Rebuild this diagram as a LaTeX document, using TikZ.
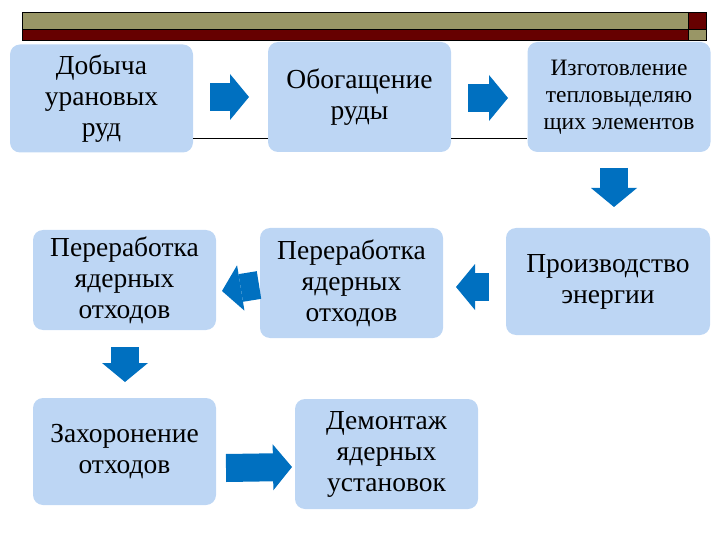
\documentclass[tikz,border=0pt]{standalone}
\usepackage{fontspec}
\setmainfont{LiberationSerif}[Extension=.ttf, UprightFont=*-Regular, BoldFont=*-Bold, ItalicFont=*-Italic, BoldItalicFont=*-BoldItalic]
\usetikzlibrary{arrows.meta}

\definecolor{boxblue}{RGB}{189,214,244}
\definecolor{arrowblue}{RGB}{0,112,192}
\definecolor{barolive}{RGB}{153,150,102}
\definecolor{barred}{RGB}{102,0,0}

\tikzset{
	stage/.style={fill=boxblue, rounded corners=10pt, align=center, minimum width=183pt, minimum height=108pt, inner sep=0pt, font=\fontsize{27.5}{31}\selectfont},
	flow/.style={draw=arrowblue, line width=28pt, -{Triangle[width=46pt,length=19pt,line width=0pt]}}
}

\begin{document}
\begin{tikzpicture}[x=1pt,y=-1pt]
	\useasboundingbox (0,0) rectangle (720,540);
	% title bar
	\fill[barolive] (22,12) rectangle (688,29);
	\fill[barred] (22,29) rectangle (688,40);
	\fill[barred] (688,12) rectangle (706,29);
	\fill[barolive] (688,29) rectangle (706,40);
	\draw[thin] (22,12) rectangle (706,40);
	\draw[thin] (22,29)--(706,29);
	\draw[thin] (688,12)--(688,40);
	% stages
	\node[stage] (dobycha) at (101.5,98.5) {Добыча\\урановых\\руд};
	\node[stage, minimum height=110pt] (obogashch) at (359.5,97) {Обогащение\\руды};
	\node[stage, minimum height=110pt, font=\fontsize{23.5}{27}\selectfont] (izgot) at (619,97) {Изготовление\\тепловыделяю\\щих элементов};
	\node[stage, minimum height=100pt] (pererabA) at (124.5,280) {Переработка\\ядерных\\отходов};
	\node[stage, minimum height=110pt] (pererabB) at (351.5,283) {Переработка\\ядерных\\отходов};
	\node[stage, minimum width=204pt, minimum height=107pt] (energ) at (608,281.5) {Производство\\энергии};
	\node[stage, minimum height=107pt] (zahor) at (124.5,451.5) {Захоронение\\отходов};
	\node[stage, minimum height=110pt] (demont) at (386.5,454) {Демонтаж\\ядерных\\установок};
	% rules under the top arrows
	\draw[thin] (dobycha.east |- 0,138)--(obogashch.west |- 0,138);
	\draw[thin] (obogashch.east |- 0,138)--(izgot.west |- 0,138);
	% arrow ends
	\coordinate (fA) at (210,97);
	\coordinate (tA) at (249,97);
	\coordinate (fB) at (468,98);
	\coordinate (tB) at (508,98);
	\coordinate (fC) at (614,168);
	\coordinate (tC) at (614,207);
	\coordinate (fD) at (489,287);
	\coordinate (tD) at (456,287);
	\coordinate (fE) at (259,285);
	\coordinate (tE) at (222,291);
	\coordinate (fF) at (125,347);
	\coordinate (tF) at (125,382);
	\coordinate (fG) at (226,468);
	\coordinate (tG) at (292,467);
	\draw[flow] (fA)--(tA);
	\draw[flow] (fB)--(tB);
	\draw[flow] (fC)--(tC);
	\draw[flow] (fD)--(tD);
	\draw[flow] (fE)--(tE);
	\draw[flow] (fF)--(tF);
	\draw[flow] (fG)--(tG);
\end{tikzpicture}
\end{document}
